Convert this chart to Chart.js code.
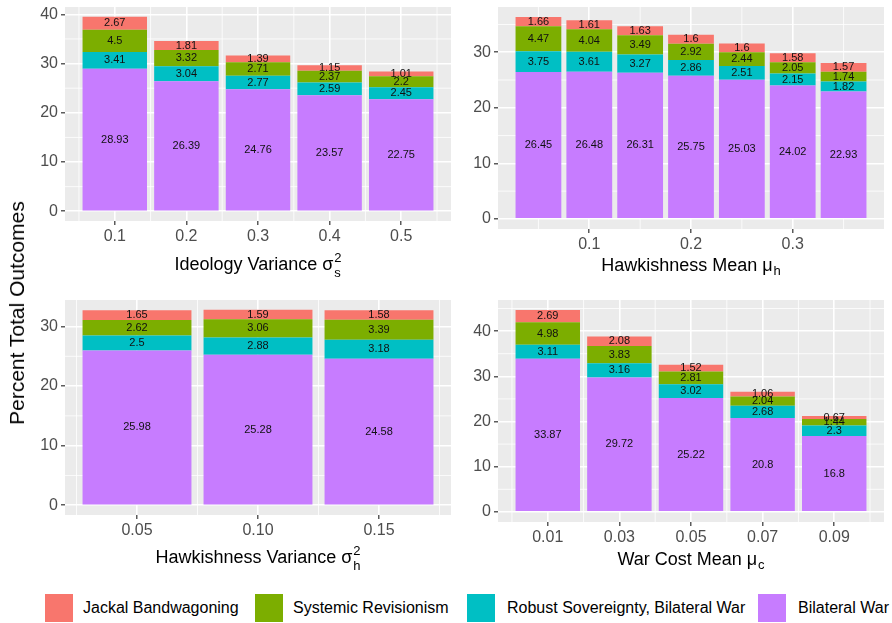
<!DOCTYPE html>
<html>
<head>
<meta charset="utf-8">
<title>Percent Total Outcomes</title>
<script src="https://cdn.jsdelivr.net/npm/chart.js@4.4.1/dist/chart.umd.min.js"></script>
<style>
  body { margin: 0; background: #fff; font-family: "Liberation Sans", Arial, sans-serif; }
  #page { position: relative; width: 892px; height: 623px; overflow: hidden; }
  canvas { position: absolute; }
  #ytitle { position: absolute; left: 17px; top: 313px; transform: translate(-50%, -50%) rotate(-90deg);
            font-size: 21px; white-space: nowrap; color: #000; }
  .key { position: absolute; top: 594px; width: 28px; height: 28px; }
  .lab { position: absolute; top: 599px; font-size: 16px; color: #000; white-space: nowrap; }
</style>
</head>
<body>
<div id="page">
  <canvas id="c1" width="455" height="290" style="left:0;top:0"></canvas>
  <canvas id="c2" width="437" height="290" style="left:455px;top:0"></canvas>
  <canvas id="c3" width="455" height="290" style="left:0;top:290px"></canvas>
  <canvas id="c4" width="437" height="290" style="left:455px;top:290px"></canvas>
  <div id="ytitle">Percent Total Outcomes</div>
  <div id="legend"></div>
</div>
<script>
// series, top of stack first (legend order)
const seriesNames = ['Jackal Bandwagoning', 'Systemic Revisionism', 'Robust Sovereignty, Bilateral War', 'Bilateral War'];
const seriesColors = ['#F8766D', '#7CAE00', '#00BFC4', '#C77CFF'];

// ideology variance
const ideoX = [0.1, 0.2, 0.3, 0.4, 0.5];
const ideoJackal = [2.67, 1.81, 1.39, 1.15, 1.01];
const ideoSystemic = [4.5, 3.32, 2.71, 2.37, 2.2];
const ideoRobust = [3.41, 3.04, 2.77, 2.59, 2.45];
const ideoBilateral = [28.93, 26.39, 24.76, 23.57, 22.75];
const ideoTicks = [0.1, 0.2, 0.3, 0.4, 0.5];
const ideoTickLabels = ['0.1', '0.2', '0.3', '0.4', '0.5'];
const ideoMinor = [0.05, 0.15, 0.25, 0.35, 0.45, 0.55];
const ideoYTicks = [0, 10, 20, 30, 40];
const ideoYMinor = [5, 15, 25, 35];

// hawkishness mean
const hmX = [0.05, 0.1, 0.15, 0.2, 0.25, 0.3, 0.35];
const hmJackal = [1.66, 1.61, 1.63, 1.6, 1.6, 1.58, 1.57];
const hmSystemic = [4.47, 4.04, 3.49, 2.92, 2.44, 2.05, 1.74];
const hmRobust = [3.75, 3.61, 3.27, 2.86, 2.51, 2.15, 1.82];
const hmBilateral = [26.45, 26.48, 26.31, 25.75, 25.03, 24.02, 22.93];
const hmTicks = [0.1, 0.2, 0.3];
const hmTickLabels = ['0.1', '0.2', '0.3'];
const hmMinor = [0.05, 0.15, 0.25, 0.35];
const hmYTicks = [0, 10, 20, 30];
const hmYMinor = [5, 15, 25, 35];

// hawkishness variance
const hvX = [0.05, 0.10, 0.15];
const hvJackal = [1.65, 1.59, 1.58];
const hvSystemic = [2.62, 3.06, 3.39];
const hvRobust = [2.5, 2.88, 3.18];
const hvBilateral = [25.98, 25.28, 24.58];
const hvTicks = [0.05, 0.10, 0.15];
const hvTickLabels = ['0.05', '0.10', '0.15'];
const hvMinor = [0.025, 0.075, 0.125, 0.175];
const hvYTicks = [0, 10, 20, 30];
const hvYMinor = [5, 15, 25];

// war cost mean
const wcX = [0.01, 0.03, 0.05, 0.07, 0.09];
const wcJackal = [2.69, 2.08, 1.52, 1.06, 0.67];
const wcSystemic = [4.98, 3.83, 2.81, 2.04, 1.44];
const wcRobust = [3.11, 3.16, 3.02, 2.68, 2.3];
const wcBilateral = [33.87, 29.72, 25.22, 20.8, 16.8];
const wcTicks = [0.01, 0.03, 0.05, 0.07, 0.09];
const wcTickLabels = ['0.01', '0.03', '0.05', '0.07', '0.09'];
const wcMinor = [0, 0.02, 0.04, 0.06, 0.08, 0.1];
const wcYTicks = [0, 10, 20, 30, 40];
const wcYMinor = [5, 15, 25, 35, 45];

const FONT = '"Liberation Sans", Arial, sans-serif';

const panels = [
  { id: 'c1', x: ideoX, series: [ideoJackal, ideoSystemic, ideoRobust, ideoBilateral],
    xTicks: ideoTicks, xLabels: ideoTickLabels, xMinor: ideoMinor, yTicks: ideoYTicks, yMinor: ideoYMinor,
    title: { base: 'Ideology Variance σ', sup: '2', sub: 's' },
    pad: { left: 30, top: 7, right: 4, bottom: 0 }, yW: 35, xH: 69, titleY: 270 },
  { id: 'c2', x: hmX, series: [hmJackal, hmSystemic, hmRobust, hmBilateral],
    xTicks: hmTicks, xLabels: hmTickLabels, xMinor: hmMinor, yTicks: hmYTicks, yMinor: hmYMinor,
    title: { base: 'Hawkishness Mean μ', sub: 'h' },
    pad: { left: 0, top: 7, right: 8, bottom: 0 }, yW: 43, xH: 61, titleY: 271 },
  { id: 'c3', x: hvX, series: [hvJackal, hvSystemic, hvRobust, hvBilateral],
    xTicks: hvTicks, xLabels: hvTickLabels, xMinor: hvMinor, yTicks: hvYTicks, yMinor: hvYMinor,
    title: { base: 'Hawkishness Variance σ', sup: '2', sub: 'h' },
    pad: { left: 30, top: 10, right: 4, bottom: 0 }, yW: 35, xH: 65, titleY: 273 },
  { id: 'c4', x: wcX, series: [wcJackal, wcSystemic, wcRobust, wcBilateral],
    xTicks: wcTicks, xLabels: wcTickLabels, xMinor: wcMinor, yTicks: wcYTicks, yMinor: wcYMinor,
    title: { base: 'War Cost Mean μ', sub: 'c' },
    pad: { left: 0, top: 10, right: 8, bottom: 0 }, yW: 43, xH: 58, titleY: 275 }
];

// grey panel background
const panelBg = {
  id: 'panelBg',
  beforeDraw(chart) {
    const a = chart.chartArea, ctx = chart.ctx;
    ctx.save();
    ctx.fillStyle = '#EBEBEB';
    ctx.fillRect(a.left, a.top, a.right - a.left, a.bottom - a.top);
    ctx.restore();
  }
};

// thin white minor grid lines
const minorGrid = {
  id: 'minorGrid',
  beforeDatasetsDraw(chart, args, opts) {
    const a = chart.chartArea, ctx = chart.ctx;
    const xs = chart.scales.x, ys = chart.scales.y;
    ctx.save();
    ctx.strokeStyle = '#fff';
    ctx.lineWidth = 0.8;
    ctx.beginPath();
    opts.x.forEach(v => { const p = xs.getPixelForValue(v); ctx.moveTo(p, a.top); ctx.lineTo(p, a.bottom); });
    opts.y.forEach(v => { const p = ys.getPixelForValue(v); ctx.moveTo(a.left, p); ctx.lineTo(a.right, p); });
    ctx.stroke();
    ctx.restore();
  }
};

// value labels in the middle of each segment
const segLabels = {
  id: 'segLabels',
  afterDatasetsDraw(chart) {
    const ctx = chart.ctx;
    ctx.save();
    ctx.font = '11px ' + FONT;
    ctx.fillStyle = '#111';
    ctx.textAlign = 'center';
    ctx.textBaseline = 'middle';
    chart.data.datasets.forEach((ds, di) => {
      chart.getDatasetMeta(di).data.forEach((bar, i) => {
        ctx.fillText(String(ds.data[i].y), bar.x, (bar.y + bar.base) / 2);
      });
    });
    ctx.restore();
  }
};

// x axis title with plotmath-like sub/superscript
const axisTitle = {
  id: 'axisTitle',
  afterDraw(chart, args, opts) {
    const ctx = chart.ctx, a = chart.chartArea;
    const t = opts.title;
    ctx.save();
    ctx.fillStyle = '#000';
    ctx.textBaseline = 'alphabetic';
    ctx.textAlign = 'left';
    ctx.font = '18px ' + FONT;
    const wb = ctx.measureText(t.base).width;
    ctx.font = '13px ' + FONT;
    const ws = Math.max(t.sup ? ctx.measureText(t.sup).width : 0, t.sub ? ctx.measureText(t.sub).width : 0);
    const x0 = (a.left + a.right) / 2 - (wb + ws + 1) / 2;
    const y = opts.y;
    ctx.font = '18px ' + FONT;
    ctx.fillText(t.base, x0, y);
    ctx.font = '13px ' + FONT;
    if (t.sup) ctx.fillText(t.sup, x0 + wb + 1, y - 8);
    if (t.sub) ctx.fillText(t.sub, x0 + wb + 1, y + (t.sup ? 7 : 4));
    ctx.restore();
  }
};

function expand(lo, hi) {
  const d = (hi - lo) * 0.05;
  return [lo - d, hi + d];
}

panels.forEach(p => {
  const order = [3, 2, 1, 0]; // bottom of stack first
  const datasets = order.map(k => ({
    label: seriesNames[k],
    data: p.x.map((x, i) => ({ x: x, y: p.series[k][i] })),
    backgroundColor: seriesColors[k],
    borderWidth: 0,
    categoryPercentage: 1,
    barPercentage: 0.9
  }));
  const totals = p.x.map((x, i) => p.series.reduce((s, arr) => s + arr[i], 0));
  const yr = expand(0, Math.max(...totals));
  const step = p.x[1] - p.x[0];
  const xr = expand(p.x[0] - step * 0.45, p.x[p.x.length - 1] + step * 0.45);

  new Chart(document.getElementById(p.id), {
    type: 'bar',
    data: { datasets: datasets },
    options: {
      responsive: false,
      animation: false,
      devicePixelRatio: 1,
      layout: { padding: p.pad },
      plugins: {
        legend: { display: false },
        tooltip: { enabled: false },
        minorGrid: { x: p.xMinor, y: p.yMinor },
        axisTitle: { title: p.title, y: p.titleY }
      },
      scales: {
        x: {
          type: 'linear', stacked: true, offset: false,
          min: xr[0], max: xr[1],
          afterBuildTicks: s => { s.ticks = p.xTicks.map(v => ({ value: v })); },
          afterFit: s => { s.height = p.xH; s.paddingLeft = 0; s.paddingRight = 0; },
          ticks: {
            callback: (v, i) => p.xLabels[i],
            color: '#4D4D4D', font: { size: 16, family: FONT },
            padding: 2, maxRotation: 0, autoSkip: false
          },
          grid: { offset: false, color: '#fff', lineWidth: 1.6, tickColor: '#333', tickLength: 4, tickWidth: 1.2 },
          border: { display: false }
        },
        y: {
          stacked: true,
          min: yr[0], max: yr[1],
          afterBuildTicks: s => { s.ticks = p.yTicks.map(v => ({ value: v })); },
          afterFit: s => { s.width = p.yW; s.paddingTop = 0; s.paddingBottom = 0; },
          ticks: {
            callback: v => String(v),
            color: '#4D4D4D', font: { size: 16, family: FONT },
            padding: 3
          },
          grid: { color: '#fff', lineWidth: 1.6, tickColor: '#333', tickLength: 4, tickWidth: 1.2 },
          border: { display: false }
        }
      }
    },
    plugins: [panelBg, minorGrid, segLabels, axisTitle]
  });
});

// shared legend under the panels
const keyLeft = [45, 255, 467, 758];
const labLeft = [83, 293, 507, 798];
const legend = document.getElementById('legend');
seriesNames.forEach((name, k) => {
  const key = document.createElement('div');
  key.className = 'key';
  key.style.left = keyLeft[k] + 'px';
  key.style.background = seriesColors[k];
  legend.appendChild(key);
  const lab = document.createElement('div');
  lab.className = 'lab';
  lab.style.left = labLeft[k] + 'px';
  lab.textContent = name;
  legend.appendChild(lab);
});
</script>
</body>
</html>
